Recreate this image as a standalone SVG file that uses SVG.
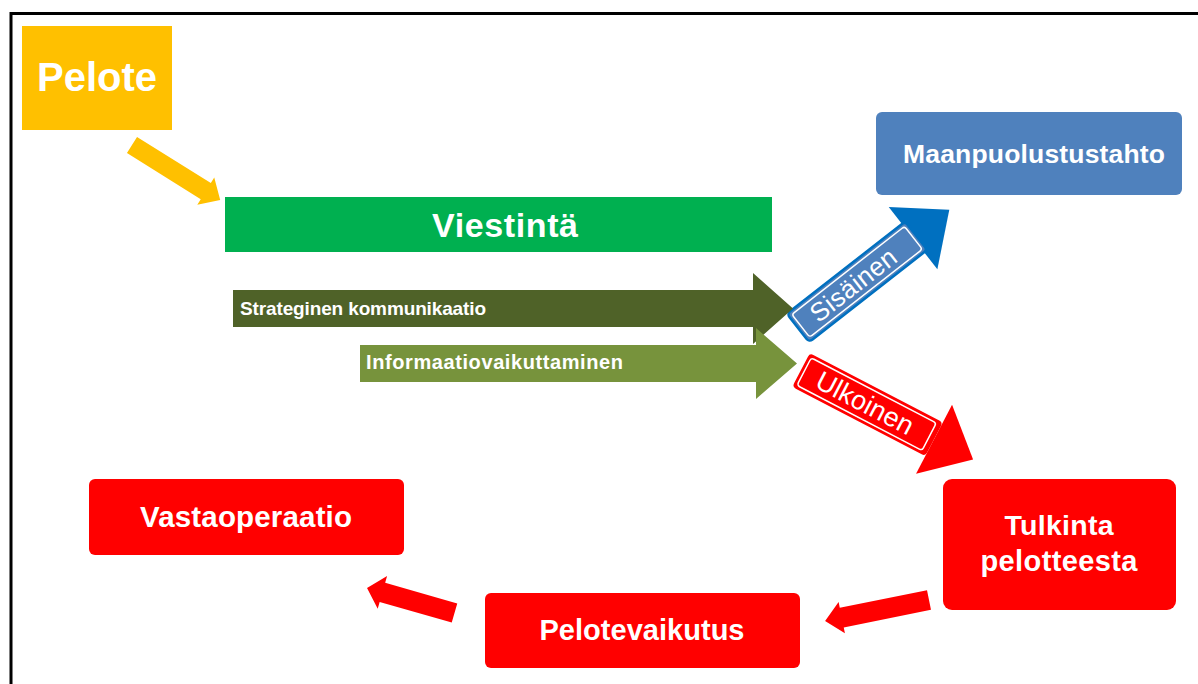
<svg xmlns="http://www.w3.org/2000/svg" width="1198" height="684" viewBox="0 0 1198 684">
  <style>
    .lbl { font-family: "Liberation Sans", Arial, sans-serif; font-weight: bold; fill: #ffffff; text-anchor: middle; }
    .lbl-l { font-family: "Liberation Sans", Arial, sans-serif; font-weight: bold; fill: #ffffff; }
    .tag { font-family: "Liberation Sans", Arial, sans-serif; fill: #ffffff; text-anchor: middle; }
    .red { fill: #FF0000; }
  </style>
  <rect x="0" y="0" width="1198" height="684" fill="#ffffff"/>
  <!-- frame -->
  <rect x="11" y="13.5" width="1200" height="700" fill="none" stroke="#000000" stroke-width="3"/>

  <g id="connectors">
    <!-- Pelote -> Viestintä -->
    <polygon transform="translate(132,145) rotate(32)" fill="#FFC000" points="0,-9.5 87,-9.5 87,-16 104,0 87,16 87,9.5 0,9.5"/>
    <!-- Sisäinen arrow -->
    <g id="sisainen" transform="translate(798,328) rotate(-38)">
      <polygon fill="#0070C0" points="146,-39.5 192,0 146,39.5"/>
      <rect x="0" y="-18" width="150" height="36" rx="4" fill="#4F81BD" stroke="#0070C0" stroke-width="2.5"/>
      <rect x="3.5" y="-14.5" width="143" height="29" rx="3" fill="none" stroke="#ffffff" stroke-width="1.5"/>
      <text class="tag" x="70" y="9" font-size="26" textLength="102">Sisäinen</text>
    </g>
    <!-- Ulkoinen arrow -->
    <g id="ulkoinen" transform="translate(801,370) rotate(27.5)">
      <polygon fill="#FF0000" points="150,-39 194,0 150,39"/>
      <rect x="0" y="-19" width="150" height="38" rx="4" fill="#FF0000"/>
      <rect x="3.5" y="-15.5" width="141" height="31" rx="3" fill="none" stroke="#ffffff" stroke-width="1.5"/>
      <text class="tag" x="72" y="9" font-size="27" textLength="106">Ulkoinen</text>
    </g>
    <!-- Tulkinta -> Pelotevaikutus -->
    <polygon class="red" transform="translate(929,600) rotate(168.6)" points="0,-10 89,-10 89,-16 106,0 89,16 89,10 0,10"/>
    <!-- Pelotevaikutus -> Vastaoperaatio -->
    <polygon class="red" transform="translate(454.5,613) rotate(196)" points="0,-10 75,-10 75,-17 91,0 75,17 75,10 0,10"/>
  </g>

  <g id="pelote">
    <rect x="22" y="26" width="150" height="104" fill="#FFC000"/>
    <text class="lbl" x="97" y="91" font-size="40">Pelote</text>
  </g>

  <g id="viestinta">
    <rect x="225" y="197" width="547" height="55" fill="#00B050"/>
    <text class="lbl" x="505" y="237" font-size="34" textLength="146">Viestintä</text>
  </g>

  <g id="strateginen">
    <polygon fill="#4F6228" points="233,290 753,290 753,273 793,308.5 753,344 753,327 233,327"/>
    <text class="lbl-l" x="240" y="315" font-size="19" textLength="246">Strateginen kommunikaatio</text>
  </g>

  <g id="informaatio">
    <polygon fill="#77933C" points="360,345 756,345 756,328 797,363.5 756,399 756,382 360,382"/>
    <text class="lbl-l" x="366" y="369" font-size="20" textLength="257">Informaatiovaikuttaminen</text>
  </g>

  <g id="maanpuolustustahto">
    <rect x="876" y="112" width="306" height="83" rx="6" fill="#4F81BD"/>
    <text class="lbl" x="1034" y="163" font-size="26.5" textLength="262">Maanpuolustustahto</text>
  </g>

  <g id="tulkinta">
    <rect x="943" y="479" width="233" height="131" rx="9" class="red"/>
    <text class="lbl" x="1059" y="535" font-size="28.5" textLength="109">Tulkinta</text>
    <text class="lbl" x="1059" y="571" font-size="29" textLength="157">pelotteesta</text>
  </g>

  <g id="pelotevaikutus">
    <rect x="485" y="593" width="315" height="75" rx="6" class="red"/>
    <text class="lbl" x="642" y="640" font-size="29" textLength="205">Pelotevaikutus</text>
  </g>

  <g id="vastaoperaatio">
    <rect x="89" y="479" width="315" height="76" rx="6" class="red"/>
    <text class="lbl" x="246" y="527" font-size="29.5" textLength="212">Vastaoperaatio</text>
  </g>
</svg>
